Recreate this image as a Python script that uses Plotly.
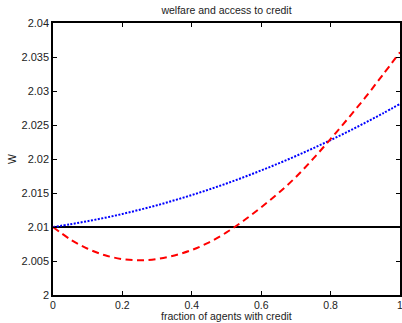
import plotly.graph_objects as go

x_vals = [0, 0.05, 0.1, 0.15, 0.2, 0.25, 0.3, 0.35, 0.4, 0.45, 0.5,
          0.55, 0.6, 0.65, 0.7, 0.75, 0.8, 0.85, 0.9, 0.95, 1.0]
baseline = [2.01] * 21
blue_dotted = [2.0100, 2.0104, 2.01086, 2.01136, 2.01192, 2.01254, 2.0132, 2.01393, 2.0147,
               2.01552, 2.0164, 2.01733, 2.01832, 2.01935, 2.02044, 2.02159, 2.02278,
               2.02403, 2.02534, 2.02669, 2.0281]
red_dashed = [2.0100, 2.00818, 2.0068, 2.00584, 2.00528, 2.0051, 2.00529, 2.00582, 2.00662,
              2.00775, 2.0092, 2.01095, 2.0129, 2.0150, 2.01735, 2.02005, 2.02295,
              2.02595, 2.02905, 2.03235, 2.0357]

x_ticks = [0, 0.2, 0.4, 0.6, 0.8, 1]
x_ticktext = ["0", "0.2", "0.4", "0.6", "0.8", "1"]
y_ticks = [2, 2.005, 2.01, 2.015, 2.02, 2.025, 2.03, 2.035, 2.04]
y_ticktext = ["2", "2.005", "2.01", "2.015", "2.02", "2.025", "2.03", "2.035", "2.04"]

fig = go.Figure()
fig.add_trace(go.Scatter(x=x_vals, y=baseline, mode="lines",
                         line=dict(color="black", width=2), showlegend=False, hoverinfo="skip"))
fig.add_trace(go.Scatter(x=x_vals, y=blue_dotted, mode="lines", line_shape="spline",
                         line=dict(color="#0000ff", width=2, dash="2px,1.5px"),
                         showlegend=False, hoverinfo="skip"))
fig.add_trace(go.Scatter(x=x_vals, y=red_dashed, mode="lines", line_shape="spline",
                         line=dict(color="#ff0000", width=2, dash="7px,4.5px"),
                         showlegend=False, hoverinfo="skip"))

fam = "Liberation Sans, Arial, sans-serif"
txtcol = "#222222"
font = dict(family=fam, size=11, color=txtcol)
fig.update_layout(
    width=402, height=323,
    margin=dict(l=53, r=2, t=23, b=28),
    paper_bgcolor="white", plot_bgcolor="white",
    font=font,
    title=dict(text="welfare and access to credit", x=0.5635, xanchor="center",
               y=1 - 10 / 323, yanchor="middle", font=dict(size=10.5, family=fam, color=txtcol)),
    annotations=[
        dict(text="fraction of agents with credit", xref="paper", yref="paper",
             x=0.5, y=-21 / 272, xanchor="center", yanchor="middle", showarrow=False,
             font=dict(size=10.5, family=fam, color=txtcol)),
        dict(text="W", xref="paper", yref="paper", textangle=-90,
             x=-41 / 347, y=0.5, xanchor="center", yanchor="middle", showarrow=False,
             font=dict(size=10.5, family=fam, color=txtcol)),
    ],
)
fig.update_xaxes(range=[0, 1], tickvals=x_ticks, ticktext=x_ticktext,
                 ticks="inside", ticklen=4, tickwidth=1, tickcolor="black",
                 showline=True, linecolor="black", linewidth=1.5, mirror="ticks",
                 showgrid=False, zeroline=False, automargin=False,
                 ticklabeloverflow="allow", tickfont=dict(size=10.5))
fig.update_yaxes(range=[2, 2.04], tickvals=y_ticks, ticktext=y_ticktext,
                 ticks="inside", ticklen=4, tickwidth=1, tickcolor="black",
                 showline=True, linecolor="black", linewidth=1.5, mirror="ticks",
                 showgrid=False, zeroline=False, automargin=False,
                 ticklabeloverflow="allow")

fig.write_html("out.html", config={"displayModeBar": False},
               post_script="document.body.style.margin='0';document.body.style.overflow='hidden';")
